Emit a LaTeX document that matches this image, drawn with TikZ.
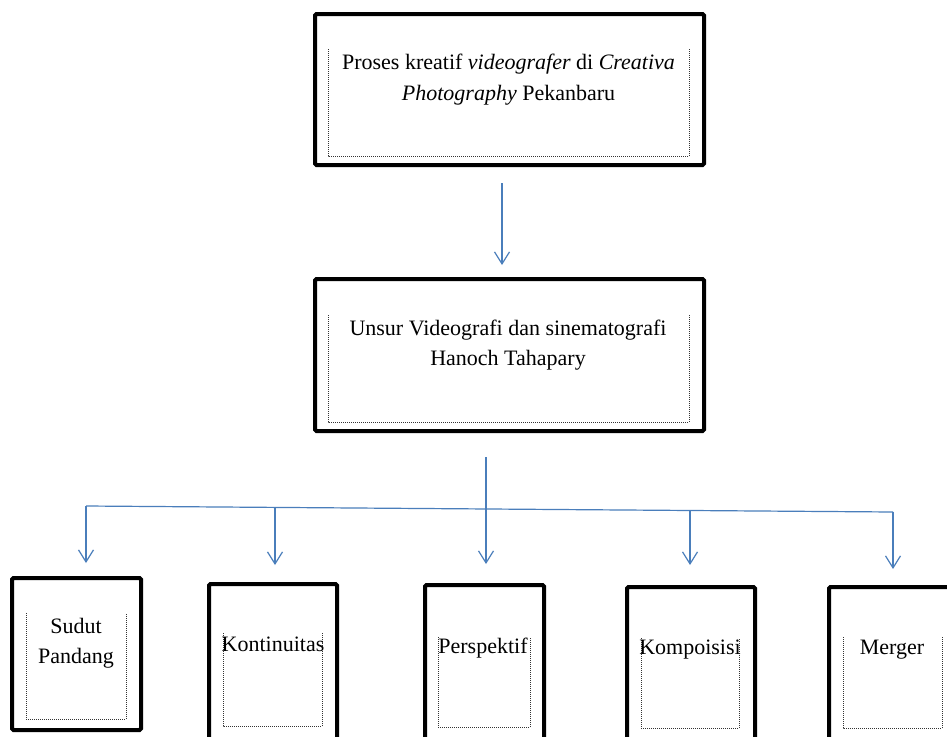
\documentclass[tikz,border=0pt]{standalone}
\usepackage{fontspec}
\setmainfont{Liberation Serif}
\usetikzlibrary{arrows.meta}
\definecolor{arrowblue}{HTML}{4A7EBB}
\tikzset{
  outerbox/.style={draw=black, line width=4pt, rounded corners=1.5pt, minimum width=#1, inner sep=0pt},
  frame/.style={draw=black!80, line width=1pt, dash pattern=on 1pt off 1pt},
  txt/.style={anchor=base, inner sep=0pt, font=\fontsize{22}{30}\selectfont},
  conn/.style={draw=arrowblue, line width=1.2pt},
  arr/.style={conn, -{Straight Barb[length=12pt,width=15pt,line width=1.2pt]}}
}
\begin{document}
\begin{tikzpicture}[x=1pt,y=-1pt]
\useasboundingbox (0,0) rectangle (947,736);
\clip (0,0) rectangle (947,736);
\fill[white] (0,0) rectangle (947,736);

% top box
\node[outerbox=389pt, minimum height=151pt] (top) at (509.5,89.5) {};
\draw[frame] (328,49) -- (328,156) -- (689,156) -- (689,49);
\node[txt] (t1) at (508.5,69) {Proses kreatif \textit{videografer} di \textit{Creativa}};
\node[txt] (t2) at (508.5,100) {\textit{Photography} Pekanbaru};

% middle box
\node[outerbox=389pt, minimum height=152pt] (mid) at (509.5,355) {};
\draw[frame] (328,315) -- (328,422) -- (689,422) -- (689,315);
\node[txt] (m1) at (508,335) {Unsur Videografi dan sinematografi};
\node[txt] (m2) at (508,365) {Hanoch Tahapary};

% bottom boxes
\node[outerbox=129pt, minimum height=152pt] (b1) at (76.5,654) {};
\draw[frame] (26,613) -- (26,719) -- (126,719) -- (126,613);
\node[txt] (s1) at (76,633) {Sudut};
\node[txt] (s2) at (76,663) {Pandang};

\node[outerbox=128pt, minimum height=170pt] (b2) at (273,669) {};
\draw[frame] (223,633) -- (223,726) -- (322,726) -- (322,633);
\node[txt] (k) at (273,651) {Kontinuitas};

\node[outerbox=119pt, minimum height=170pt] (b3) at (484.5,670) {};
\draw[frame] (438,637) -- (438,727) -- (530,727) -- (530,637);
\node[txt] (p) at (483,653) {Perspektif};

\node[outerbox=128pt, minimum height=170pt] (b4) at (691,672) {};
\draw[frame] (641,638) -- (641,728) -- (739,728) -- (739,638);
\node[txt] (ko) at (690,654) {Kompoisisi};

\node[outerbox=128pt, minimum height=170pt] (b5) at (893,672) {};
\draw[frame] (843,637) -- (843,728) -- (942,728) -- (942,637);
\node[txt] (mg) at (892,654) {Merger};

% connectors
\coordinate (a1s) at (502,183);
\coordinate (a1e) at (502,265);
\draw[arr] (a1s) -- (a1e);

\coordinate (ts) at (486,457);
\coordinate (hl) at (86,506);
\coordinate (hr) at (893,512);
\coordinate (j2) at (275,507.4);
\coordinate (j4) at (690,510.5);
\coordinate (e1) at (86,563);
\coordinate (e2) at (275,565);
\coordinate (e3) at (486,564);
\coordinate (e4) at (690,565);
\coordinate (e5) at (893,569);
\draw[conn] (hl) -- (hr);
\draw[arr] (ts) -- (e3);
\draw[arr] (hl) -- (e1);
\draw[arr] (j2) -- (e2);
\draw[arr] (j4) -- (e4);
\draw[arr] (hr) -- (e5);
\end{tikzpicture}
\end{document}
